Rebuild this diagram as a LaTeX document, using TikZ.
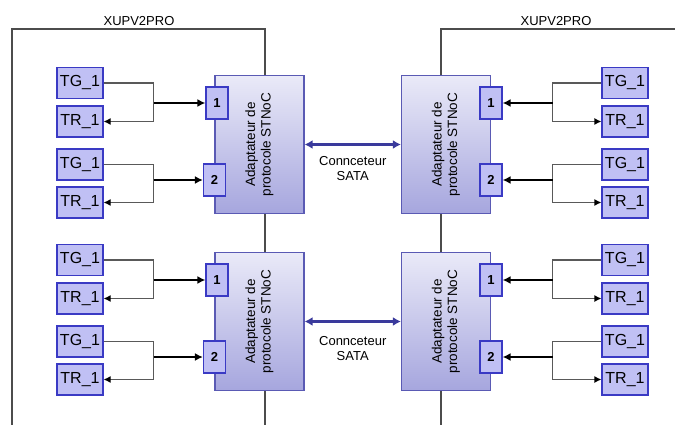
\documentclass[tikz,border=0pt]{standalone}
\usepackage{fontspec}
\setmainfont{Liberation Sans}
\usetikzlibrary{arrows.meta}
\definecolor{adtop}{RGB}{234,234,248}
\definecolor{adbot}{RGB}{166,166,222}
\definecolor{adline}{RGB}{90,90,180}
\definecolor{boxfill}{RGB}{192,192,244}
\definecolor{boxline}{RGB}{58,58,196}
\definecolor{satablue}{RGB}{58,58,156}
\tikzset{
    board/.style={draw=black!70, line width=1.3pt},
    boardname/.style={font=\fontsize{13}{15}\selectfont},
    adapter/.style={draw=adline, line width=1.2pt, top color=adtop, bottom color=adbot,
        minimum width=89pt, minimum height=138pt, inner sep=0pt},
    adtext/.style={rotate=90, align=center, font=\fontsize{13.5}{15.5}\selectfont},
    port/.style={draw=boxline, fill=boxfill, line width=1.2pt, minimum width=22pt,
        minimum height=32pt, inner sep=0pt, font=\fontsize{13}{15}\selectfont\bfseries},
    tbox/.style={draw=boxline, fill=boxfill, line width=1.2pt, minimum width=46pt,
        minimum height=31pt, inner sep=0pt, font=\fontsize{16}{18}\selectfont},
    feed/.style={draw=black!65, line width=1.2pt},
    link/.style={draw=black, line width=1.8pt, -{Latex[length=8pt,width=8pt]}},
    back/.style={-{Latex[length=7pt,width=7pt,color=black]}},
    sata/.style={draw=satablue, line width=2.6pt, {Latex[length=8pt,width=9pt]}-{Latex[length=8pt,width=9pt]}},
    satalabel/.style={align=center, font=\fontsize{13}{15}\selectfont}
}

\begin{document}
\begin{tikzpicture}[x=1pt, y=-1pt]
    \useasboundingbox (0,0) rectangle (675,425);

    % the two boards
    \draw[board] (12,425) -- (12,29) -- (265,29) -- (265,425);
    \draw[board] (675,29) -- (441,29) -- (441,425);
    \node[boardname] (nameL) at (139,21) {XUPV2PRO};
    \node[boardname] (nameR) at (556,21) {XUPV2PRO};

    \foreach \s/\bx/\pxa/\pxb/\tx/\jx/\ta/\pa in {L/259.5/217/214.5/80/153.5/east/west,
                                                  R/446/491/491/625/552.5/west/east} {
        \foreach \r/\by in {U/144.5, D/321.5} {
            \node[adapter] (ad\s\r) at (\bx,\by) {};
            \node[adtext] (tx\s\r) at (ad\s\r.center) {Adaptateur de\\protocole STNoC};
            \node[port] (pa\s\r) at (\pxa,\by-41.5) {1};
            \node[port] (pb\s\r) at (\pxb,\by+35.5) {2};

            \node[tbox] (ga\s\r) at (\tx,\by-61.5) {TG\_1};
            \node[tbox] (ra\s\r) at (\tx,\by-23) {TR\_1};
            \node[tbox] (gb\s\r) at (\tx,\by+20) {TG\_1};
            \node[tbox] (rb\s\r) at (\tx,\by+58) {TR\_1};

            \coordinate (ja\s\r) at (\jx,\by-41.5);
            \coordinate (jb\s\r) at (\jx,\by+35.5);

            \draw[feed, back] (ga\s\r.\ta) -| (ja\s\r) |- (ra\s\r.\ta);
            \draw[link] (ja\s\r) -- (pa\s\r.\pa);
            \draw[feed, back] (gb\s\r.\ta) -| (jb\s\r) |- (rb\s\r.\ta);
            \draw[link] (jb\s\r) -- (pb\s\r.\pa);
        }
    }

    % SATA links
    \draw[sata] (adLU.east) -- (adRU.west)
        node[satalabel, midway, yshift=-24pt] (sataU) {Connceteur\\SATA};
    \draw[sata] (adLD.east) -- (adRD.west)
        node[satalabel, midway, yshift=-27pt] (sataD) {Connceteur\\SATA};
\end{tikzpicture}
\end{document}
